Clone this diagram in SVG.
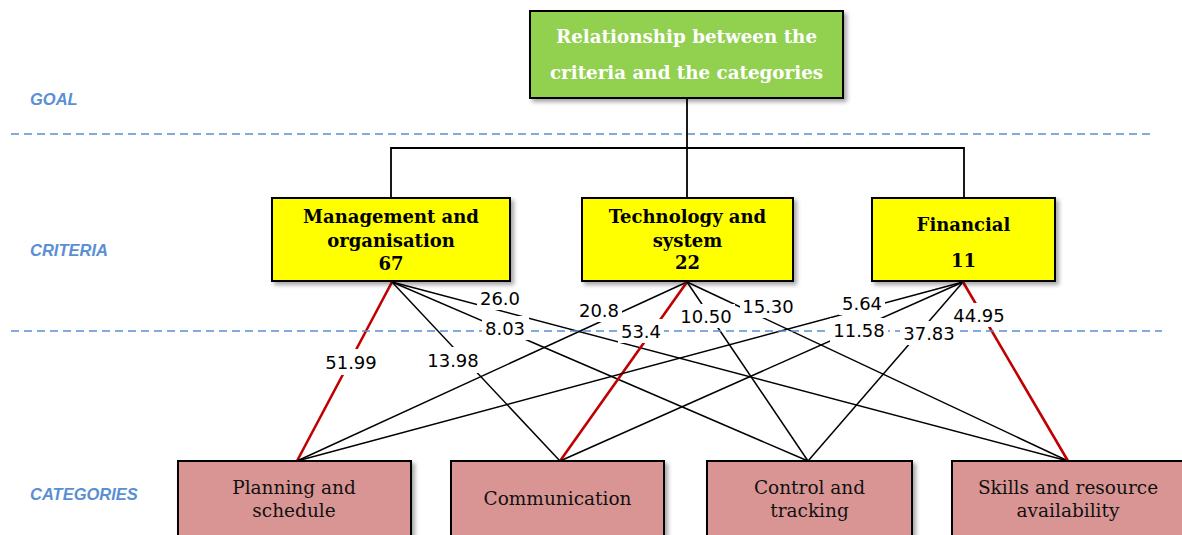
<svg xmlns="http://www.w3.org/2000/svg" width="1182" height="535" viewBox="0 0 1182 535">
<defs>
<filter id="sh" x="-10%" y="-10%" width="130%" height="140%">
<feDropShadow dx="3" dy="3" stdDeviation="2" flood-color="#000" flood-opacity="0.35"/>
</filter>
<style>
.lvl{font-family:"Liberation Sans",Arial,sans-serif;font-weight:bold;font-style:italic;font-size:16.5px;fill:#5b8fd3}
.dash{stroke:#5b8fd3;stroke-width:1.6;stroke-dasharray:8 5;fill:none}
.box{stroke:#000;stroke-width:2;filter:url(#sh)}
.goal{fill:#92d050}
.crit{fill:#ffff00}
.cat{fill:#d99594}
.tt{font-family:"DejaVu Serif",serif;font-weight:bold;font-size:18.3px;fill:#fff;text-anchor:middle}
.ct{font-family:"DejaVu Serif",serif;font-weight:bold;font-size:18px;fill:#000;text-anchor:middle}
.gt{font-family:"DejaVu Serif",serif;font-size:18.5px;fill:#111;text-anchor:middle}
.tree{stroke:#000;stroke-width:1.8;fill:none}
.bl{stroke:#000;stroke-width:1.5}
.rd{stroke:#c00000;stroke-width:2.6}
.lb{fill:#fff}
.lt{font-family:"DejaVu Sans",Verdana,sans-serif;font-size:18px;fill:#000;text-anchor:middle}
</style>
</defs>
<rect width="1182" height="535" fill="#fff"/>

<text class="lvl" x="30" y="105">GOAL</text>
<text class="lvl" x="30" y="256">CRITERIA</text>
<text class="lvl" x="30" y="500">CATEGORIES</text>

<line class="dash" x1="11" y1="134" x2="1152" y2="134"/>

<g id="connectors">
<polyline class="tree" points="687,98 687,148"/>
<polyline class="tree" points="391,199 391,148 964,148 964,199"/>
<line class="tree" x1="687" y1="148" x2="687" y2="199"/>
<line class="rd" x1="392" y1="282" x2="297" y2="461"/>
<line class="bl" x1="392" y1="282" x2="560" y2="461"/>
<line class="bl" x1="392" y1="282" x2="808" y2="461"/>
<line class="bl" x1="392" y1="282" x2="1068" y2="461"/>
<line class="bl" x1="687" y1="282" x2="297" y2="461"/>
<line class="rd" x1="687" y1="282" x2="560" y2="461"/>
<line class="bl" x1="687" y1="282" x2="808" y2="461"/>
<line class="bl" x1="687" y1="282" x2="1068" y2="461"/>
<line class="bl" x1="963" y1="282" x2="297" y2="461"/>
<line class="bl" x1="963" y1="282" x2="560" y2="461"/>
<line class="bl" x1="963" y1="282" x2="808" y2="461"/>
<line class="rd" x1="963" y1="282" x2="1068" y2="461"/>
</g>

<line class="dash" x1="11" y1="331" x2="1162" y2="331"/>

<g id="labels">
<rect class="lb" x="322" y="349" width="58" height="26"/><text class="lt" x="351" y="369">51.99</text>
<rect class="lb" x="424" y="347" width="58" height="26"/><text class="lt" x="453" y="367">13.98</text>
<rect class="lb" x="477" y="286" width="46" height="24"/><text class="lt" x="500" y="305">26.0</text>
<rect class="lb" x="482" y="316" width="47" height="24"/><text class="lt" x="505" y="335">8.03</text>
<rect class="lb" x="576" y="298" width="46" height="24"/><text class="lt" x="599" y="317">20.8</text>
<rect class="lb" x="618" y="319" width="46" height="24"/><text class="lt" x="641" y="338">53.4</text>
<rect class="lb" x="678" y="304" width="57" height="24"/><text class="lt" x="706" y="323">10.50</text>
<rect class="lb" x="740" y="294" width="57" height="24"/><text class="lt" x="768" y="313">15.30</text>
<rect class="lb" x="839" y="291" width="46" height="24"/><text class="lt" x="862" y="310">5.64</text>
<rect class="lb" x="830" y="318" width="58" height="24"/><text class="lt" x="859" y="337">11.58</text>
<rect class="lb" x="900" y="321" width="58" height="24"/><text class="lt" x="929" y="340">37.83</text>
<rect class="lb" x="950" y="303" width="58" height="24"/><text class="lt" x="979" y="322">44.95</text>
</g>

<g id="goal">
<rect class="box goal" x="530" y="11" width="313" height="87"/>
<text class="tt" x="686.5" y="43">Relationship between the</text>
<text class="tt" x="686.5" y="79">criteria and the categories</text>
</g>

<g id="crit-management">
<rect class="box crit" x="272" y="198" width="238" height="83"/>
<text class="ct" x="391" y="223">Management and</text>
<text class="ct" x="391" y="247">organisation</text>
<text class="ct" x="391" y="270">67</text>
</g>
<g id="crit-technology">
<rect class="box crit" x="582" y="198" width="211" height="83"/>
<text class="ct" x="687.5" y="223">Technology and</text>
<text class="ct" x="687.5" y="247">system</text>
<text class="ct" x="687.5" y="269">22</text>
</g>
<g id="crit-financial">
<rect class="box crit" x="872" y="198" width="183" height="83"/>
<text class="ct" x="963.5" y="231">Financial</text>
<text class="ct" x="963.5" y="267">11</text>
</g>

<g id="cat-planning">
<rect class="box cat" x="178" y="461" width="233" height="90"/>
<text class="gt" x="294" y="494">Planning and</text>
<text class="gt" x="294" y="517">schedule</text>
</g>
<g id="cat-communication">
<rect class="box cat" x="451" y="461" width="213" height="90"/>
<text class="gt" x="557.5" y="505">Communication</text>
</g>
<g id="cat-control">
<rect class="box cat" x="707" y="461" width="205" height="90"/>
<text class="gt" x="809.5" y="494">Control and</text>
<text class="gt" x="809.5" y="517">tracking</text>
</g>
<g id="cat-skills">
<rect class="box cat" x="952" y="461" width="240" height="90"/>
<text class="gt" x="1068" y="494">Skills and resource</text>
<text class="gt" x="1068" y="517">availability</text>
</g>
</svg>
